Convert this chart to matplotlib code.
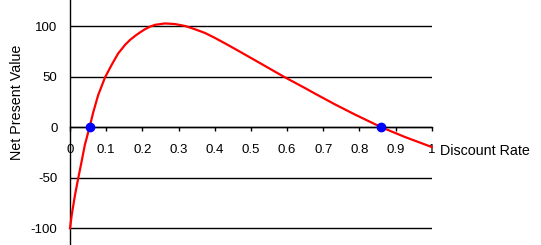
import matplotlib
matplotlib.use("Agg")
import matplotlib.pyplot as plt

plt.rcParams['font.family'] = ['Liberation Sans', 'DejaVu Sans']

# values
rate = [0, 0.0047, 0.0138, 0.023, 0.032, 0.041, 0.054, 0.064, 0.078, 0.097,
        0.115, 0.133, 0.152, 0.166, 0.18, 0.193, 0.207, 0.221, 0.235, 0.262,
        0.29, 0.318, 0.346, 0.373, 0.4, 0.43, 0.47, 0.525, 0.59, 0.654,
        0.677, 0.733, 0.788, 0.861, 0.926, 1.0]
npv = [-100, -87, -67, -50, -34, -17.5, 0, 14.5, 32, 49.5,
       61.7, 73, 81.5, 86.5, 90.5, 93.8, 97, 99.6, 101.4, 102.8,
       102.2, 100.3, 97, 93.4, 88.6, 82.8, 74.8, 63.6, 50.3, 38,
       33.4, 22.6, 12.6, 0, -9.6, -19.5]

# internal rates of return (zero crossings)
irr_rate = [0.055, 0.861]
irr_npv = [0, 0]

x_ticks = [0, 0.1, 0.2, 0.3, 0.4, 0.5, 0.6, 0.7, 0.8, 0.9, 1]
x_labels = ["0", "0.1", "0.2", "0.3", "0.4", "0.5", "0.6", "0.7", "0.8", "0.9", "1"]
y_ticks = [-100, -50, 0, 50, 100]
y_labels = ["-100", "-50", "0", "50", "100"]

W, H = 541, 245
fig = plt.figure(figsize=(W / 100, H / 100), dpi=100)
ax = fig.add_axes([70 / W, 0, 361.7 / W, 1])

ax.plot(rate, npv, color="#ff0000", lw=1.6, zorder=4, clip_on=False)
ax.plot(irr_rate, irr_npv, "o", color="#0000ff", ms=6, zorder=5, clip_on=False)

ax.set_xlim(0, 1)
ax.set_ylim(-116.5, 126)

for s in ["top", "right"]:
    ax.spines[s].set_visible(False)
ax.spines["bottom"].set_position(("data", 0))
ax.spines["left"].set_linewidth(1)
ax.spines["bottom"].set_linewidth(1)

ax.set_xticks(x_ticks)
ax.set_xticklabels(x_labels, fontsize=9.5)
ax.set_yticks(y_ticks)
ax.set_yticklabels(y_labels, fontsize=9.5)
ax.tick_params(axis="x", direction="out", length=3, width=1, pad=9)
ax.tick_params(axis="y", length=0, pad=9)

ax.yaxis.grid(True, color="black", lw=1)
ax.set_axisbelow(True)

fig.text(440 / W, 1 - 151 / H, "Discount Rate", fontsize=10.3,
         ha="left", va="center")
fig.text(17 / W, 1 - 102 / H, "Net Present Value", fontsize=10.3,
         rotation=90, ha="center", va="center")

fig.savefig("out.png", dpi=100)
